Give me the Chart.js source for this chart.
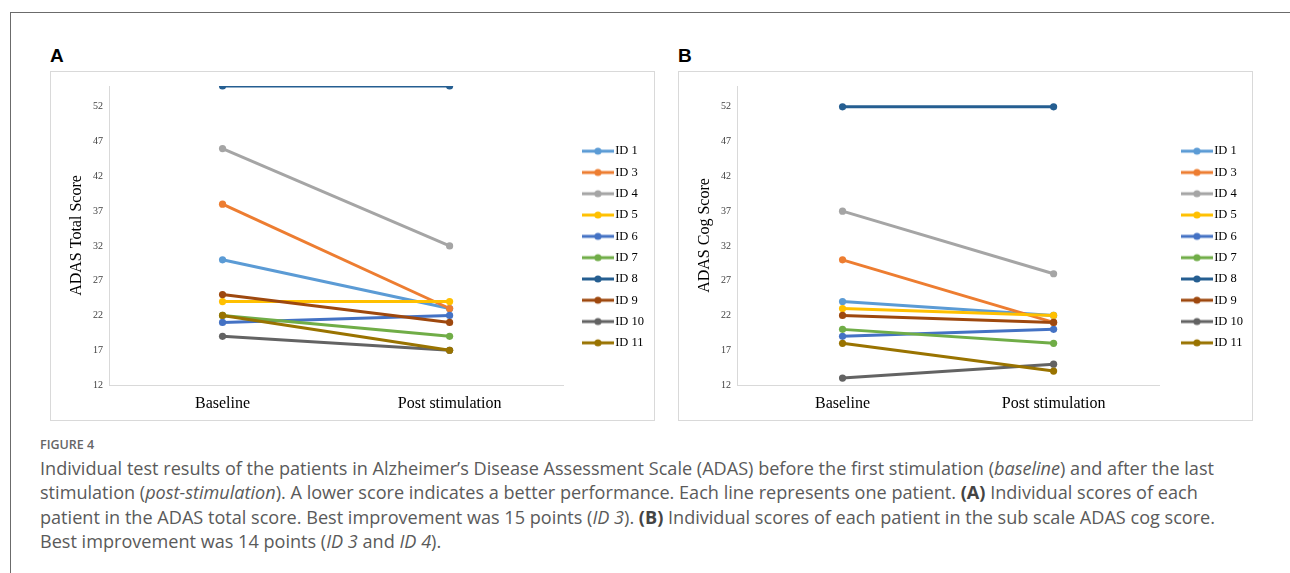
<!DOCTYPE html>
<html>
<head>
<meta charset="utf-8">
<script src="https://cdn.jsdelivr.net/npm/chart.js@4.4.0/dist/chart.umd.min.js"></script>
<style>
  body { margin: 0; width: 1290px; height: 573px; background: #fff; position: relative; overflow: hidden; font-family: "Open Sans", sans-serif; }
  #frame { position: absolute; left: 10px; top: 12px; right: -2px; bottom: -2px; border-left: 1px solid #6b6b6b; border-top: 1px solid #6b6b6b; }
  .tag { position: absolute; top: 45px; font: bold 19px "Liberation Sans", Arial, sans-serif; color: #000; }
  .panel { position: absolute; top: 71px; height: 348px; border: 1px solid #d9d9d9; background: #fff; }
  .panel div { position: relative; width: 100%; height: 100%; }
  #capHead { position: absolute; left: 40px; top: 436px; font: 600 12.5px "Open Sans", sans-serif; color: #666; }
  #cap { position: absolute; left: 40px; top: 456px; font: 18.1px/24.4px "Open Sans", sans-serif; color: #5a5a5a; white-space: nowrap; }
  #cap b { color: #444; }
</style>
</head>
<body>
<div id="frame"></div>
<div class="tag" style="left:50px">A</div>
<div class="tag" style="left:678px">B</div>
<div class="panel" style="left:50px;width:603px"><div><canvas id="chartA"></canvas></div></div>
<div class="panel" style="left:678px;width:573px"><div><canvas id="chartB"></canvas></div></div>
<div id="capHead">FIGURE 4</div>
<div id="cap">Individual test results of the patients in Alzheimer’s Disease Assessment Scale (ADAS) before the first stimulation (<i>baseline</i>) and after the last<br>stimulation (<i>post-stimulation</i>). A lower score indicates a better performance. Each line represents one patient. <b>(A)</b> Individual scores of each<br>patient in the ADAS total score. Best improvement was 15 points (<i>ID 3</i>). <b>(B)</b> Individual scores of each patient in the sub scale ADAS cog score.<br>Best improvement was 14 points (<i>ID 3</i> and <i>ID 4</i>).</div>

<script>
// data dari gambar
const categories = ['Baseline', 'Post stimulation'];
const ids = ['ID 1', 'ID 3', 'ID 4', 'ID 5', 'ID 6', 'ID 7', 'ID 8', 'ID 9', 'ID 10', 'ID 11'];
const colors = ['#5B9BD5', '#ED7D31', '#A5A5A5', '#FFC000', '#4472C4', '#70AD47', '#255E91', '#9E480E', '#636363', '#997300'];
const yTicks = [12, 17, 22, 27, 32, 37, 42, 47, 52];

// panel A: ADAS total
const totalBaseline = [30, 38, 46, 24, 21, 22, 55, 25, 19, 22];
const totalPost     = [23, 23, 32, 24, 22, 19, 55, 21, 17, 17];

// panel B: ADAS cog
const cogBaseline = [24, 30, 37, 23, 19, 20, 52, 22, 13, 18];
const cogPost     = [22, 21, 28, 22, 20, 18, 52, 21, 15, 14];

const serif = '"Liberation Serif", "Times New Roman", serif';

// garis + titik untuk legenda (gaya Excel)
function legendSwatch(color) {
    const c = document.createElement('canvas');
    c.width = 32; c.height = 10;
    const g = c.getContext('2d');
    g.strokeStyle = color; g.lineWidth = 3;
    g.beginPath(); g.moveTo(0, 5); g.lineTo(32, 5); g.stroke();
    g.fillStyle = color;
    g.beginPath(); g.arc(16, 5, 3.6, 0, Math.PI * 2); g.fill();
    return c;
}

// geser legenda sedikit
const legendShift = {
    id: 'legendShift',
    afterLayout(chart, args, opts) {
        chart.legend.left += opts.dx;
        chart.legend.right += opts.dx;
        chart.legend.top += opts.dy;
        chart.legend.bottom += opts.dy;
    }
};

function makeChart(canvasId, baseline, post, title, padRight, dx) {
    const datasets = ids.map((id, i) => ({
        label: id,
        data: [baseline[i], post[i]],
        borderColor: colors[i],
        backgroundColor: colors[i],
        borderWidth: 3,
        pointRadius: 3.6,
        pointHoverRadius: 3.6,
        pointBorderWidth: 0,
        order: ids.length - i
    }));

    return new Chart(document.getElementById(canvasId), {
        type: 'line',
        data: { labels: categories, datasets: datasets },
        plugins: [legendShift],
        options: {
            responsive: true,
            maintainAspectRatio: false,
            animation: false,
            layout: { padding: { left: 16, top: 14, right: padRight, bottom: 0 } },
            scales: {
                x: {
                    offset: true,
                    grid: { display: false, drawTicks: false },
                    border: { display: true, color: '#d9d9d9', width: 1 },
                    ticks: { color: '#000', padding: 9, font: { family: serif, size: 16 } },
                    afterFit: s => { s.height = 35; }
                },
                y: {
                    min: 12,
                    max: 55,
                    grid: { display: false, drawTicks: false },
                    border: { display: true, color: '#d9d9d9', width: 1 },
                    ticks: { color: '#404040', padding: 6, font: { family: serif, size: 10 } },
                    afterBuildTicks: s => { s.ticks = yTicks.map(v => ({ value: v })); },
                    title: { display: true, text: title, color: '#000', padding: 0, font: { family: serif, size: 16 } },
                    afterFit: s => { s.width = 42; }
                }
            },
            plugins: {
                legendShift: { dx: dx, dy: -6 },
                tooltip: { enabled: false },
                legend: {
                    position: 'right',
                    align: 'center',
                    labels: {
                        usePointStyle: true,
                        pointStyleWidth: 22,
                        boxHeight: 12,
                        padding: 8.8,
                        color: '#000',
                        font: { family: serif, size: 12.5 },
                        sort: (a, b) => a.datasetIndex - b.datasetIndex,
                        generateLabels: chart => {
                            const items = Chart.defaults.plugins.legend.labels.generateLabels(chart);
                            items.forEach(it => { it.pointStyle = legendSwatch(colors[it.datasetIndex]); });
                            return items;
                        }
                    }
                }
            }
        }
    });
}

makeChart('chartA', totalBaseline, totalPost, 'ADAS Total Score', 15, 15);
makeChart('chartB', cogBaseline, cogPost, 'ADAS Cog Score', 17, 18);
</script>
</body>
</html>
